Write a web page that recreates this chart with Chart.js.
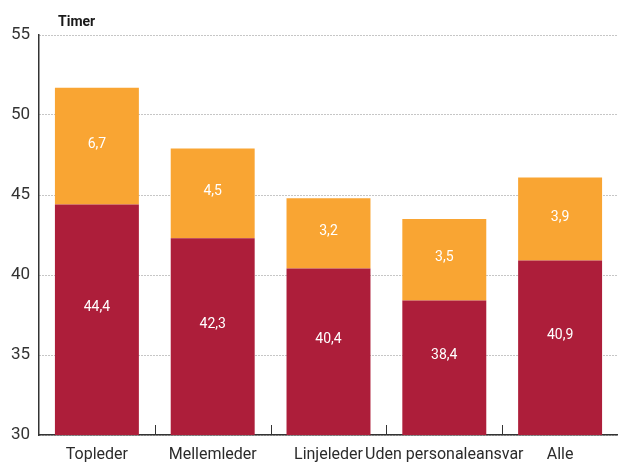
<!DOCTYPE html>
<html><head><meta charset="utf-8">
<script src="https://cdn.jsdelivr.net/npm/chart.js@4"></script>
<style>html,body{margin:0;padding:0;background:#fff}#wrap{width:618px;height:464px;position:relative}</style>
</head><body><div id="wrap"><canvas id="c"></canvas></div>
<script>
const categories = ['Topleder', 'Mellemleder', 'Linjeleder', 'Uden personaleansvar', 'Alle'];
const baseHours = [44.4, 42.3, 40.4, 38.4, 40.9];
const extraHours = [7.3, 5.6, 4.4, 5.1, 5.2];
const extraLabels = ['6,7', '4,5', '3,2', '3,5', '3,9'];
const baseLabels = ['44,4', '42,3', '40,4', '38,4', '40,9'];
const yTicks = [30, 35, 40, 45, 50, 55];
const yUnit = 'Timer';

const FONT = 'Roboto, "Noto Sans", sans-serif';
const RED = '#AD1E3A';
const ORANGE = '#F9A533';

const valueLabels = {
  id: 'valueLabels',
  afterDatasetsDraw(chart) {
    const ctx = chart.ctx;
    const area = chart.chartArea;
    ctx.save();
    ctx.fillStyle = '#ffffff';
    ctx.font = '14px ' + FONT;
    ctx.textAlign = 'center';
    ctx.textBaseline = 'middle';
    chart.data.datasets.forEach((ds, di) => {
      const meta = chart.getDatasetMeta(di);
      meta.data.forEach((el, i) => {
        const bottom = Math.min(el.base, area.bottom);
        const top = Math.max(el.y, area.top);
        const mid = (top + bottom) / 2 + (di === 0 ? -12 : -2);
        ctx.fillText(ds.valueText[i], el.x, mid);
      });
    });
    ctx.restore();
  }
};

const extras = {
  id: 'extras',
  afterDraw(chart) {
    const ctx = chart.ctx;
    const x = chart.scales.x;
    const area = chart.chartArea;
    ctx.save();
    ctx.strokeStyle = '#333333';
    ctx.lineWidth = 1;
    for (let i = 0; i < categories.length - 1; i++) {
      const px = Math.round((x.getPixelForValue(i) + x.getPixelForValue(i + 1)) / 2) + 0.5;
      ctx.beginPath();
      ctx.moveTo(px, area.bottom - 10);
      ctx.lineTo(px, area.bottom);
      ctx.stroke();
    }
    ctx.fillStyle = '#1a1a1a';
    ctx.font = 'bold 14px ' + FONT;
    ctx.textAlign = 'left';
    ctx.textBaseline = 'alphabetic';
    ctx.fillText(yUnit, area.left + 19, area.top - 9);
    ctx.restore();
  }
};

new Chart(document.getElementById('c'), {
  type: 'bar',
  data: {
    labels: categories,
    datasets: [
      { data: baseHours, valueText: baseLabels, backgroundColor: RED, borderWidth: 0,
        barPercentage: 0.725, categoryPercentage: 1 },
      { data: extraHours, valueText: extraLabels, backgroundColor: ORANGE, borderWidth: 0,
        barPercentage: 0.725, categoryPercentage: 1 }
    ]
  },
  options: {
    responsive: true,
    maintainAspectRatio: false,
    animation: false,
    layout: { padding: { top: 35, left: 0, right: 0, bottom: 0 } },
    plugins: { legend: { display: false }, tooltip: { enabled: false }, title: { display: false } },
    scales: {
      x: {
        stacked: true,
        offset: true,
        grid: { display: false, drawTicks: false },
        border: { display: true, color: '#333333', width: 1.5 },
        ticks: { color: '#2b2b2b', font: { family: FONT, size: 16 }, padding: 10, maxRotation: 0, autoSkip: false },
        afterFit(s) { s.height = 29; }
      },
      y: {
        stacked: true,
        min: yTicks[0],
        max: yTicks[yTicks.length - 1],
        afterBuildTicks(s) { s.ticks = yTicks.map(v => ({ value: v })); },
        grid: { color: '#8c8c8c', lineWidth: 1, drawTicks: false },
        border: { display: true, color: '#333333', width: 1.5, dash: [1, 2] },
        ticks: { color: '#333333', font: { family: FONT, size: 17 }, padding: 9 },
        afterFit(s) { s.width = 39; }
      }
    }
  },
  plugins: [valueLabels, extras]
});
</script>
</body></html>
